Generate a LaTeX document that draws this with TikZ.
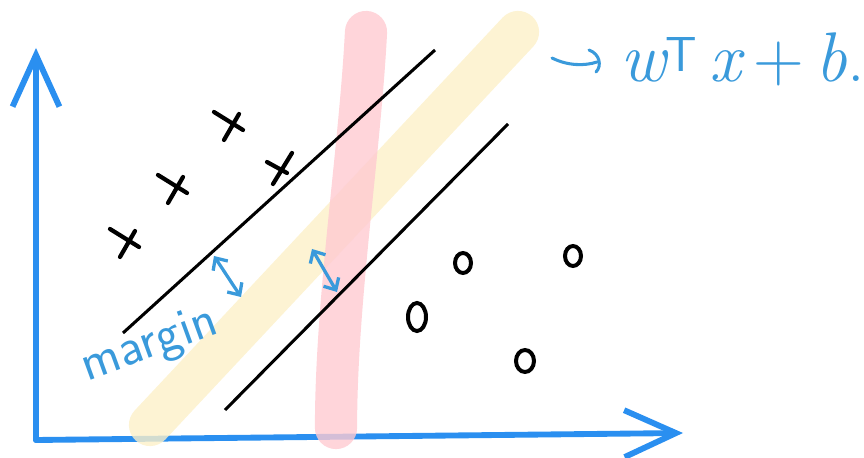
\documentclass[tikz,border=0pt]{standalone}
\usepackage{fontspec}
\usepackage{tikz}
\usetikzlibrary{arrows.meta}
\usepackage{xcolor}
\definecolor{AxisBlue}{HTML}{2A8FF0}
\definecolor{InkBlue}{HTML}{3A9ADB}
\definecolor{BandPink}{HTML}{FFCAD1}
\definecolor{BandYellow}{HTML}{FCF0C8}

\begin{document}
\begin{tikzpicture}[x=0.03cm,y=-0.03cm,
  axis/.style={AxisBlue,line width=5pt,line cap=round,
    -{Straight Barb[length=44pt,width=40pt]}},
  band/.style={line width=36pt,line cap=round,opacity=.8},
  edge/.style={line width=2.6pt},
  cross/.style={line width=3.6pt,line cap=round},
  ring/.style={line width=3.4pt},
  gap/.style={InkBlue,line width=2.8pt,line cap=round,
    {Straight Barb[length=8pt,width=15pt]}-{Straight Barb[length=8pt,width=15pt]}}]
  \useasboundingbox (0,0) rectangle (864,458);
  \coordinate (O) at (36,440);
  \coordinate (Y) at (36,48);
  \coordinate (X) at (683,433);
  \draw[axis] (O) -- (Y);
  \draw[axis] (O) -- (X);
  % the two thick strokes
  \draw[band,BandYellow] (150,425) -- (518,32);
  \draw[band,BandPink] (366,32) .. controls (360,150) and (336,300) .. (336,428);
  % margin lines
  \coordinate (U1) at (123,333);
  \coordinate (U2) at (435,50);
  \coordinate (L1) at (225,410);
  \coordinate (L2) at (508,124);
  \draw[edge] (U1) -- (U2);
  \draw[edge] (L1) -- (L2);
  \foreach \p in {(231,123),(175,186),(127,240)}
    \draw[cross,shift={\p}] (-17,-11) -- (12,7) (8,-9) -- (-7,17);
  \draw[cross,shift={(281,168)}] (-14,-6) -- (6,5) (11,-15) -- (-8,16);
  \draw[ring] (463,263) ellipse [x radius=8, y radius=10];
  \draw[ring] (573,256) ellipse [x radius=8, y radius=10];
  \draw[ring] (417,317) ellipse [x radius=9, y radius=14];
  \draw[ring] (525,361) ellipse [x radius=9, y radius=11];
  % margin arrows
  \coordinate (M1a) at (214,256);
  \coordinate (M1b) at (241,297);
  \coordinate (M2a) at (312,249);
  \coordinate (M2b) at (337,292);
  \draw[gap] (M1a) -- (M1b);
  \draw[gap] (M2a) -- (M2b);
  \node[InkBlue,rotate=20,inner sep=0pt,font=\sffamily\fontsize{45}{45}\selectfont] (marginlbl) at (150,346) {margin};
  % label of the middle line
  \node[InkBlue,anchor=base west,inner sep=0pt,font=\fontsize{60}{62}\selectfont] (plane) at (620,82)
    {\itshape w\textsuperscript{\upshape\sffamily T}\,x\,\upshape+\,\itshape b\upshape.};
  \draw[InkBlue,line width=2.6pt,line cap=round] (552,58) .. controls (568,66) and (585,66) .. (597,62);
  \draw[InkBlue,line width=2.6pt,line cap=round] (589,50) .. controls (600,54) and (602,66) .. (596,72);
\end{tikzpicture}
\end{document}
